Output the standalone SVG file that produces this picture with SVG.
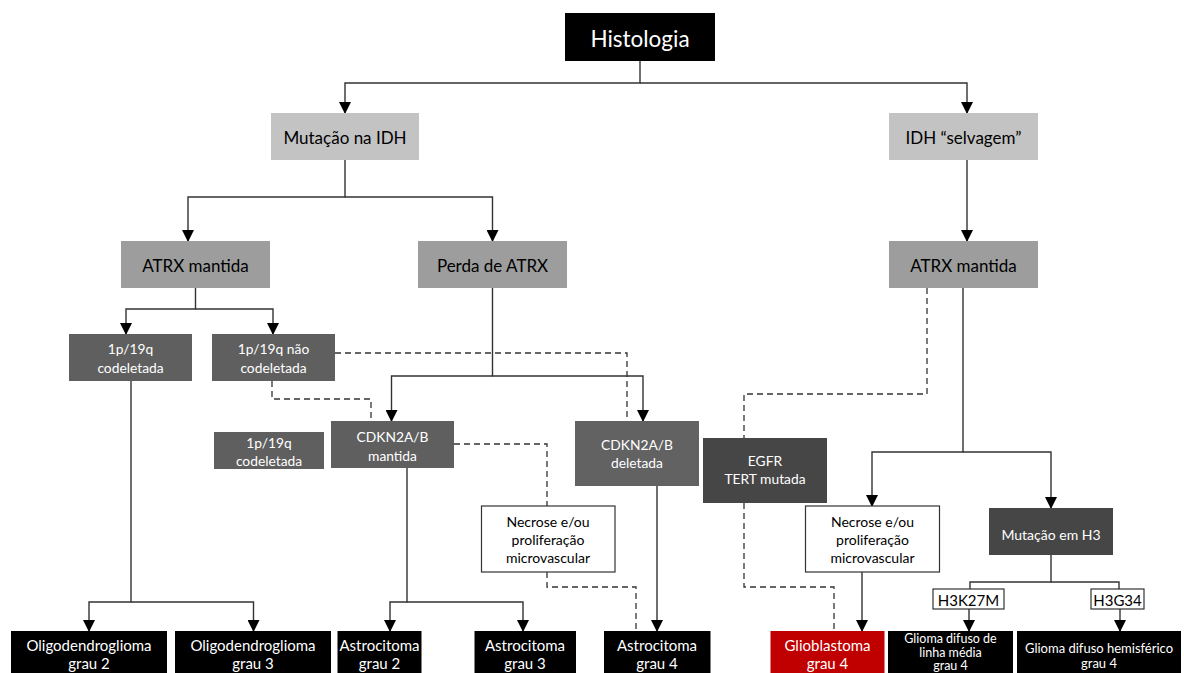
<svg xmlns="http://www.w3.org/2000/svg" width="1184" height="673" viewBox="0 0 1184 673">
<style>
text{font-family:Lato,"Liberation Sans",sans-serif;text-anchor:middle;dominant-baseline:central}
.w{fill:#fff}.k{fill:#000}
.c{fill:none;stroke:#333;stroke-width:1.4}
.d{fill:none;stroke:#333;stroke-width:1.3;stroke-dasharray:6 4}
.f15{font-size:15px}.f14{font-size:14px}.f13{font-size:13.8px}.f12{font-size:12.5px}
</style>
<defs>
<marker id="ah" markerUnits="userSpaceOnUse" markerWidth="12" markerHeight="12" refX="11" refY="6" orient="auto">
<path d="M0,0 L12,6 L0,12 z" fill="#000"/>
</marker>
</defs>
<rect width="1184" height="673" fill="#fff"/>
<g id="connectors">
<path class="c" d="M640,61 V83 H345 V113" marker-end="url(#ah)"/>
<path class="c" d="M640,83 H967 V113" marker-end="url(#ah)"/>
<path class="c" d="M345,160 V197 H188 V241" marker-end="url(#ah)"/>
<path class="c" d="M345,197 H492.5 V241" marker-end="url(#ah)"/>
<path class="c" d="M967,160 V241" marker-end="url(#ah)"/>
<path class="c" d="M195.5,288 V309 H126 V334" marker-end="url(#ah)"/>
<path class="c" d="M195.5,309 H273 V334" marker-end="url(#ah)"/>
<path class="c" d="M492.5,288 V376 H391.5 V421" marker-end="url(#ah)"/>
<path class="c" d="M492.5,376 H643 V421" marker-end="url(#ah)"/>
<path class="d" d="M335,353 H627 V421"/>
<path class="d" d="M272,381 V399 H371 V421"/>
<path class="d" d="M454,444 H547 V506"/>
<path class="d" d="M547,572 V587 H636 V630"/>
<path class="c" d="M131,381 V602 H89 V631" marker-end="url(#ah)"/>
<path class="c" d="M131,602 H253.5 V631" marker-end="url(#ah)"/>
<path class="c" d="M407,468 V602 H390 V631" marker-end="url(#ah)"/>
<path class="c" d="M407,602 H523 V631" marker-end="url(#ah)"/>
<path class="c" d="M657,486 V631" marker-end="url(#ah)"/>
<path class="c" d="M963,288 V452 H872 V506" marker-end="url(#ah)"/>
<path class="c" d="M963,452 H1051 V508" marker-end="url(#ah)"/>
<path class="d" d="M927,288 V394 H744 V438"/>
<path class="d" d="M744,503 V587 H834 V630"/>
<path class="c" d="M862,572 V631" marker-end="url(#ah)"/>
<path class="c" d="M1051,555 V582 H970 V589"/>
<path class="c" d="M1051,582 H1119 V589"/>
<path class="c" d="M969,609 V631" marker-end="url(#ah)"/>
<path class="c" d="M1120,609 V631" marker-end="url(#ah)"/>
</g>
<g id="histologia"><rect x="565" y="13" width="150" height="48" fill="#000"/><text x="640" y="38" class="w" style="font-size:22.5px">Histologia</text></g>
<g id="mutacao-idh"><rect x="271" y="113" width="148" height="47" fill="#c3c3c3"/><text x="345" y="137" class="k" style="font-size:17px">Mutação na IDH</text></g>
<g id="idh-selvagem"><rect x="889" y="113" width="149" height="47" fill="#c3c3c3"/><text x="963.5" y="137" class="k" style="font-size:17px">IDH “selvagem”</text></g>
<g id="atrx-mantida-l"><rect x="121" y="241" width="149" height="47" fill="#9d9d9d"/><text x="195.5" y="265" class="k" style="font-size:17px">ATRX mantida</text></g>
<g id="perda-atrx"><rect x="418" y="241" width="149" height="47" fill="#9d9d9d"/><text x="492.5" y="265" class="k" style="font-size:17px">Perda de ATRX</text></g>
<g id="atrx-mantida-r"><rect x="889" y="241" width="149" height="47" fill="#9d9d9d"/><text x="963.5" y="265" class="k" style="font-size:17px">ATRX mantida</text></g>
<g id="codel-1"><rect x="69" y="334" width="123" height="47" fill="#5f5f5f"/><text x="130.5" y="348.5" class="w f13">1p/19q</text><text x="130.5" y="367.5" class="w f13">codeletada</text></g>
<g id="nao-codel"><rect x="212" y="334" width="123" height="47" fill="#5f5f5f"/><text x="273.5" y="348.5" class="w f13">1p/19q não</text><text x="273.5" y="367.5" class="w f13">codeletada</text></g>
<g id="codel-2"><rect x="214" y="432" width="110" height="37" fill="#5f5f5f"/><text x="269" y="442.5" class="w f13">1p/19q</text><text x="269" y="460" class="w f13">codeletada</text></g>
<g id="cdkn-mantida"><rect x="331" y="421" width="123" height="47" fill="#5f5f5f"/><text x="392.5" y="436.5" class="w f13">CDKN2A/B</text><text x="392.5" y="455" class="w f13">mantida</text></g>
<g id="cdkn-deletada"><rect x="575" y="421" width="124" height="65" fill="#626262"/><text x="637" y="444" class="w f13">CDKN2A/B</text><text x="637" y="462.5" class="w f13">deletada</text></g>
<g id="egfr"><rect x="703" y="438" width="124" height="65" fill="#464646"/><text x="765" y="460" class="w f13">EGFR</text><text x="765" y="478.5" class="w f13">TERT mutada</text></g>
<g id="necrose-l"><rect x="481.5" y="506" width="133.5" height="66" fill="#fff" stroke="#333" stroke-width="1.2"/><text x="548" y="521" class="k f14">Necrose e/ou</text><text x="548" y="539.5" class="k f14">proliferação</text><text x="548" y="557.5" class="k f14">microvascular</text></g>
<g id="necrose-r"><rect x="805.5" y="506" width="134" height="66" fill="#fff" stroke="#333" stroke-width="1.2"/><text x="872.5" y="521" class="k f14">Necrose e/ou</text><text x="872.5" y="539.5" class="k f14">proliferação</text><text x="872.5" y="557.5" class="k f14">microvascular</text></g>
<g id="mutacao-h3"><rect x="989" y="508" width="124" height="47" fill="#464646"/><text x="1051" y="534" class="w f14">Mutação em H3</text></g>
<g id="h3k27m"><rect x="933" y="589" width="71" height="20" fill="#fff" stroke="#333" stroke-width="1.2"/><text x="968.5" y="599.5" class="k f15">H3K27M</text></g>
<g id="h3g34"><rect x="1091" y="589" width="53" height="20" fill="#fff" stroke="#333" stroke-width="1.2"/><text x="1117.5" y="599.5" class="k f15">H3G34</text></g>
<g id="oligo-2"><rect x="11" y="631" width="156" height="60" fill="#000"/><text x="89" y="645" class="w f15">Oligodendroglioma</text><text x="89" y="663" class="w f15">grau 2</text></g>
<g id="oligo-3"><rect x="175" y="631" width="156" height="60" fill="#000"/><text x="253" y="645" class="w f15">Oligodendroglioma</text><text x="253" y="663" class="w f15">grau 3</text></g>
<g id="astro-2"><rect x="337.5" y="631" width="84" height="60" fill="#000"/><text x="379.5" y="645" class="w f15">Astrocitoma</text><text x="379.5" y="663" class="w f15">grau 2</text></g>
<g id="astro-3"><rect x="474.5" y="631" width="101.5" height="60" fill="#000"/><text x="525" y="645" class="w f15">Astrocitoma</text><text x="525" y="663" class="w f15">grau 3</text></g>
<g id="astro-4"><rect x="604" y="631" width="106.5" height="60" fill="#000"/><text x="657" y="645" class="w f15">Astrocitoma</text><text x="657" y="663" class="w f15">grau 4</text></g>
<g id="glioblastoma"><rect x="770.5" y="631" width="114" height="60" fill="#c00000"/><text x="827.5" y="645" class="w f15">Glioblastoma</text><text x="827.5" y="663" class="w f15">grau 4</text></g>
<g id="glioma-linha"><rect x="888" y="631" width="125" height="60" fill="#000"/><text x="950.5" y="638.5" class="w f12">Glioma difuso de</text><text x="950.5" y="652" class="w f12">linha média</text><text x="950.5" y="665" class="w f12">grau 4</text></g>
<g id="glioma-hemi"><rect x="1017" y="631" width="164" height="60" fill="#000"/><text x="1099" y="648" class="w" style="font-size:13px">Glioma difuso hemisférico</text><text x="1099" y="663" class="w" style="font-size:13px">grau 4</text></g>
</svg>
